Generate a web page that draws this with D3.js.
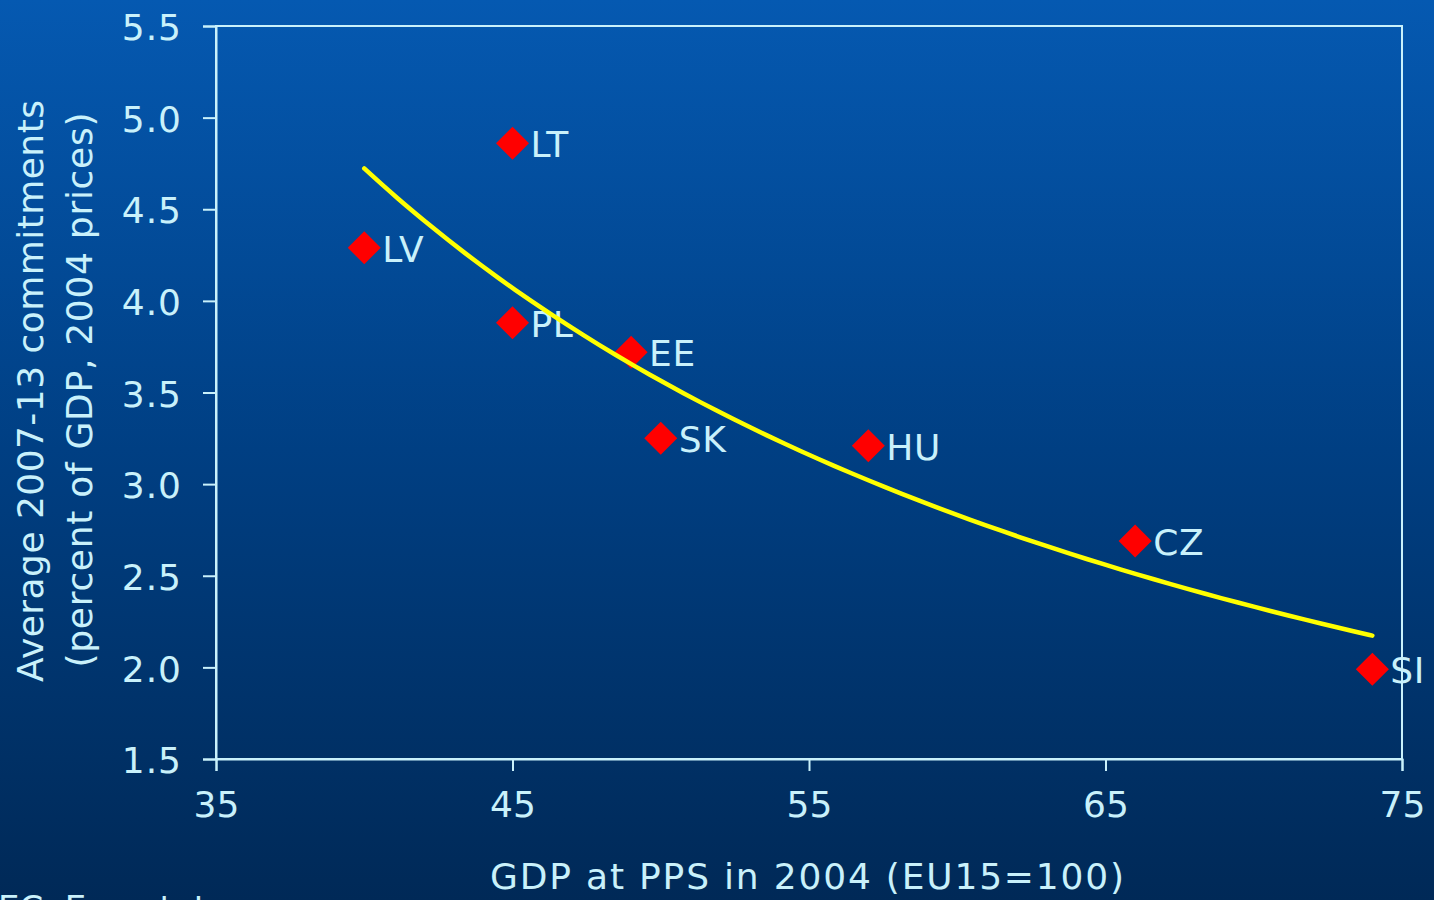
<!DOCTYPE html>
<html>
<head>
<meta charset="utf-8">
<script src="https://cdn.jsdelivr.net/npm/d3@7"></script>
<style>
  html, body { margin: 0; padding: 0; background: #002a58; overflow: hidden; }
  svg { display: block; }
  text { font-family: "DejaVu Sans", Verdana, sans-serif; fill: #c9f1fb; }
</style>
</head>
<body>
<svg id="chart" width="1434" height="900"></svg>
<script>
// Country codes and their values
const countries = ["LV", "LT", "PL", "EE", "SK", "HU", "CZ", "SI"];
const gdpPps2004 = [40, 45, 45, 49, 50, 57, 66, 74];          // GDP at PPS, EU15 = 100
const commitments = [4.29, 4.86, 3.88, 3.72, 3.25, 3.21, 2.69, 1.99]; // % of GDP

const xTicks = [35, 45, 55, 65, 75];
const yTicks = [1.5, 2.0, 2.5, 3.0, 3.5, 4.0, 4.5, 5.0, 5.5];

const W = 1434, H = 900;
const plot = { left: 216, right: 1402, top: 26, bottom: 759 };
const axisColor = "#c9f1fb";

const svg = d3.select("#chart");

// background gradient
const defs = svg.append("defs");
const grad = defs.append("linearGradient").attr("id", "bg")
  .attr("x1", 0).attr("y1", 0).attr("x2", 0).attr("y2", 1);
grad.append("stop").attr("offset", "0%").attr("stop-color", "#0559b1");
grad.append("stop").attr("offset", "50%").attr("stop-color", "#003f83");
grad.append("stop").attr("offset", "100%").attr("stop-color", "#002957");
svg.append("rect").attr("width", W).attr("height", H).attr("fill", "url(#bg)");

const x = d3.scaleLinear().domain([35, 75]).range([plot.left, plot.right]);
const y = d3.scaleLinear().domain([1.5, 5.5]).range([plot.bottom, plot.top]);

// plot frame
svg.append("rect")
  .attr("x", plot.left).attr("y", plot.top)
  .attr("width", plot.right - plot.left).attr("height", plot.bottom - plot.top)
  .attr("fill", "none").attr("stroke", axisColor).attr("stroke-width", 2);

// y axis
const yAxis = svg.append("g")
  .attr("transform", `translate(${plot.left},0)`)
  .call(d3.axisLeft(y).tickValues(yTicks).tickFormat(d3.format(".1f")).tickSize(13).tickPadding(21));
yAxis.select(".domain").attr("stroke", axisColor).attr("stroke-width", 2);
yAxis.selectAll(".tick line").attr("stroke", axisColor).attr("stroke-width", 2);
yAxis.selectAll(".tick text")
  .attr("fill", axisColor).attr("font-size", 36)
  .attr("font-family", "DejaVu Sans, sans-serif")
  .attr("letter-spacing", 1)
  .attr("dy", "0.38em");

// x axis
const xAxis = svg.append("g")
  .attr("transform", `translate(0,${plot.bottom})`)
  .call(d3.axisBottom(x).tickValues(xTicks).tickFormat(d3.format("d")).tickSize(12).tickPadding(20));
xAxis.select(".domain").attr("stroke", axisColor).attr("stroke-width", 2);
xAxis.selectAll(".tick text")
  .attr("fill", axisColor).attr("font-size", 36)
  .attr("font-family", "DejaVu Sans, sans-serif")
  .attr("dy", "0.71em");
xAxis.selectAll(".tick line").attr("stroke", axisColor).attr("stroke-width", 2);

// axis titles
svg.append("text")
  .attr("x", 807).attr("y", 889)
  .attr("text-anchor", "middle").attr("font-size", 36)
  .attr("textLength", 634).attr("lengthAdjust", "spacing")
  .text("GDP at PPS in 2004 (EU15=100)");

svg.append("text")
  .attr("transform", "translate(43,391) rotate(-90)")
  .attr("text-anchor", "middle").attr("font-size", 36)
  .attr("textLength", 582).attr("lengthAdjust", "spacing")
  .text("Average 2007-13 commitments");
svg.append("text")
  .attr("transform", "translate(92,390) rotate(-90)")
  .attr("text-anchor", "middle").attr("font-size", 36)
  .attr("textLength", 555).attr("lengthAdjust", "spacing")
  .text("(percent of GDP, 2004 prices)");

// source note along the bottom edge
svg.append("text")
  .attr("x", -2).attr("y", 920)
  .attr("font-size", 34)
  .text("EC, Eurostat");

const points = countries.map((c, i) => ({ code: c, gdp: gdpPps2004[i], val: commitments[i] }));

// markers
const diamond = d3.symbol().type(d3.symbolSquare).size(545);
svg.append("g").selectAll("path").data(points).join("path")
  .attr("d", diamond)
  .attr("transform", d => `translate(${x(d.gdp)},${y(d.val)}) rotate(45)`)
  .attr("fill", "#ff0000");

// labels
svg.append("g").selectAll("text").data(points).join("text")
  .attr("x", d => x(d.gdp) + 18)
  .attr("y", d => y(d.val) + 14)
  .attr("font-size", 36)
  .attr("letter-spacing", 0.6)
  .text(d => d.code);

// power trend line y = a * x^b, least squares on log values
const lx = points.map(d => Math.log(d.gdp));
const ly = points.map(d => Math.log(d.val));
const mx = d3.mean(lx), my = d3.mean(ly);
const b = d3.sum(lx, (v, i) => (v - mx) * (ly[i] - my)) / d3.sum(lx, v => (v - mx) * (v - mx));
const a = Math.exp(my - b * mx);
const [gMin, gMax] = d3.extent(gdpPps2004);
const trend = d3.range(0, 61).map(k => {
  const g = gMin + (gMax - gMin) * k / 60;
  return [g, a * Math.pow(g, b)];
});
svg.append("path")
  .datum(trend)
  .attr("d", d3.line().x(d => x(d[0])).y(d => y(d[1])).curve(d3.curveMonotoneX))
  .attr("fill", "none").attr("stroke", "#ffff00").attr("stroke-width", 4.5)
  .attr("stroke-linecap", "round");
</script>
</body>
</html>
